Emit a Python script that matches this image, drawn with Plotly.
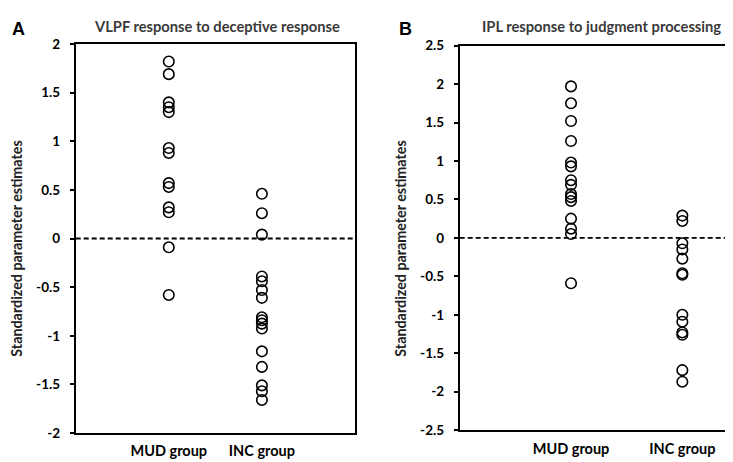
import plotly.graph_objects as go

# ---- data ----
groups = ["MUD group", "INC group"]

a_title = "VLPF response to deceptive response"
a_mud = [1.82, 1.69, 1.40, 1.35, 1.30, 0.93, 0.88, 0.57, 0.53, 0.32, 0.27, -0.09, -0.58]
a_inc = [0.46, 0.26, 0.04, -0.39, -0.44, -0.53, -0.61, -0.81, -0.84, -0.875, -0.925,
         -1.16, -1.32, -1.51, -1.57, -1.66]
a_ticks = [2, 1.5, 1, 0.5, 0, -0.5, -1, -1.5, -2]
a_ticktext = ["2", "1.5", "1", "0.5", "0", "-0.5", "-1", "-1.5", "-2"]

b_title = "IPL response to judgment processing"
b_mud = [1.97, 1.75, 1.52, 1.26, 0.98, 0.93, 0.75, 0.69, 0.57, 0.53, 0.48, 0.25, 0.12, 0.05, -0.59]
b_inc = [0.29, 0.22, -0.07, -0.15, -0.27, -0.46, -0.48, -1.0, -1.09, -1.23, -1.26, -1.72, -1.87]
b_ticks = [2.5, 2, 1.5, 1, 0.5, 0, -0.5, -1, -1.5, -2, -2.5]
b_ticktext = ["2.5", "2", "1.5", "1", "0.5", "0", "-0.5", "-1", "-1.5", "-2", "-2.5"]

y_label = "Standardized parameter estimates"
panel_letters = ["A", "B"]

W, H = 733, 462
FONT = "Lato"

fig = go.Figure()

marker = dict(symbol="circle-open", size=10.5, color="black", line=dict(width=1.6, color="black"))

for vals, g, xa, ya in [(a_mud, 1, "x", "y"), (a_inc, 2, "x", "y"),
                        (b_mud, 1, "x2", "y2"), (b_inc, 2, "x2", "y2")]:
    fig.add_trace(go.Scatter(x=[g] * len(vals), y=vals, mode="markers", marker=marker,
                             xaxis=xa, yaxis=ya, showlegend=False, hoverinfo="y"))

# zero dashed lines
for xr, yr in [("x domain", "y"), ("x2 domain", "y2")]:
    fig.add_shape(type="line", xref=xr, yref=yr, x0=0, x1=1, y0=0, y1=0,
                  line=dict(color="black", width=1.8, dash="5px,3px"), layer="below")

def px_x(p):
    return p / W

def px_y(p):
    return 1 - p / H

axis_common = dict(showline=True, linecolor="black", linewidth=2, mirror=True,
                   showgrid=False, zeroline=False)

xdomA = [px_x(67.7), px_x(347)]
xdomB = [px_x(451.7), px_x(730)]
ydomA = [px_y(432), px_y(29)]
ydomB = [px_y(429), px_y(30.7)]

xt_font = dict(size=14.5, family=FONT, weight="bold")
yt_font = dict(size=13.5, family=FONT, weight="bold")

fig.update_layout(
    width=W, height=H,
    margin=dict(l=0, r=0, t=0, b=0),
    paper_bgcolor="white", plot_bgcolor="white",
    font=dict(family=FONT, color="black"),
    xaxis=dict(domain=xdomA, range=[0, 3], tickvals=[1, 2], ticktext=groups, ticks="",
               tickfont=xt_font, ticklabelstandoff=4,
               anchor="y", **axis_common),
    yaxis=dict(domain=ydomA, range=[-2, 2], tickvals=a_ticks, ticktext=a_ticktext,
               ticks="outside", ticklen=4, tickwidth=1.5, tickcolor="black",
               tickfont=yt_font, ticklabelstandoff=7,
               anchor="x", **axis_common),
    xaxis2=dict(domain=xdomB, range=[0, 2.5], tickvals=[1, 2], ticktext=groups, ticks="",
                tickfont=xt_font, ticklabelstandoff=4,
                anchor="y2", **axis_common),
    yaxis2=dict(domain=ydomB, range=[-2.5, 2.5], tickvals=b_ticks, ticktext=b_ticktext,
                ticks="outside", ticklen=4, tickwidth=1.5, tickcolor="black",
                tickfont=yt_font, ticklabelstandoff=7,
                anchor="x2", **axis_common),
)

ann = []
# titles
for t, xc in [(a_title, 209), (b_title, 593)]:
    ann.append(dict(text="<b>" + t + "</b>", x=px_x(xc), y=px_y(10), xref="paper", yref="paper",
                    showarrow=False, font=dict(size=14.7, color="#3a3a3a", family=FONT),
                    xanchor="center", yanchor="middle"))
# panel letters
for t, xc in [(panel_letters[0], 10), (panel_letters[1], 397)]:
    ann.append(dict(text="<b>" + t + "</b>", x=px_x(xc), y=px_y(13), xref="paper", yref="paper",
                    showarrow=False, font=dict(size=18, color="black", family="Liberation Sans"),
                    xanchor="center", yanchor="middle"))
# y-axis titles
for xc in [9, 393]:
    ann.append(dict(text="<b>" + y_label + "</b>", x=px_x(xc), y=px_y(241), xref="paper", yref="paper",
                    showarrow=False, textangle=-90, font=dict(size=14.3, color="#222", family=FONT),
                    xanchor="center", yanchor="middle"))

fig.update_layout(annotations=ann)
fig.write_html("out.html")
